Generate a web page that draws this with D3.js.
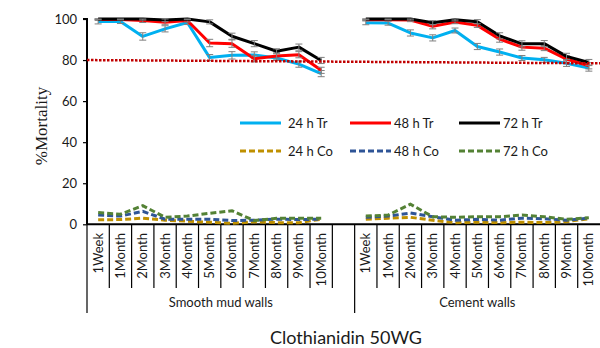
<!DOCTYPE html>
<html>
<head>
<meta charset="utf-8">
<script src="https://cdn.jsdelivr.net/npm/d3@7"></script>
<style>
  body { margin: 0; background: #fff; }
  svg { display: block; }
  text { font-family: Lato, "Open Sans", sans-serif; fill: #1a1a1a; }
</style>
</head>
<body>
<div id="chart-area"></div>
<script>
// categories
var periods = ["1Week", "1Month", "2Month", "3Month", "4Month", "5Month",
  "6Month", "7Month", "8Month", "9Month", "10Month"];
var groups = ["Smooth mud walls", "Cement walls"];
var yTicks = [0, 20, 40, 60, 80, 100];

// smooth mud walls
var mudTr24 = [98.8, 98.8, 91.5, 95.2, 98.3, 81.2, 82.3, 82.5, 81, 78, 73.4];
var mudTr48 = [99.8, 99.8, 99.3, 98.4, 99.3, 88.3, 88, 80.6, 82, 82.6, 75];
var mudTr72 = [100, 100, 100, 99.5, 100, 98.6, 91.6, 88, 84.3, 86.3, 79.8];
var mudCo24 = [2.2, 2.3, 3, 2, 1.5, 1, 0.5, 1.2, 0.8, 0.8, 2.5];
var mudCo48 = [4.5, 4, 6.3, 2.5, 2.5, 2.5, 1.8, 2, 2.5, 2.3, 2.5];
var mudCo72 = [5.7, 4.9, 9.1, 3.4, 4, 5.4, 6.6, 1.8, 2.9, 3, 3];
var mudErrTr24 = [1.2, 1, 1.8, 1.5, 1, 1.5, 1.8, 1.5, 1.2, 1.5, 1.5];
var mudErrTr48 = [0.5, 0.5, 1, 1.2, 0.8, 1.8, 1.8, 1.5, 1.5, 1.5, 1.5];
var mudErrTr72 = [0.3, 0.3, 0.5, 0.8, 0.3, 1, 1.5, 1.5, 1.2, 1.5, 1.5];

// cement walls
var cemTr24 = [98.2, 98, 93.2, 90.8, 94.4, 86.6, 83.9, 81, 80.1, 78.4, 76.1];
var cemTr48 = [99.6, 99.6, 99.5, 96.4, 98.5, 96.9, 90.2, 86.3, 85.8, 80.5, 77.2];
var cemTr72 = [100, 100, 100, 98.2, 99.6, 98.7, 91.8, 87.9, 88, 81.8, 78.8];
var cemCo24 = [2.4, 3, 3.4, 2, 0.8, 1, 0.8, 1, 0.8, 1.3, 2.7];
var cemCo48 = [3.4, 4, 5.5, 3.7, 2, 2.4, 2, 3, 2.7, 2, 3];
var cemCo72 = [4, 4.5, 9.8, 3.7, 3.4, 3.7, 3.7, 4.5, 3.7, 2.4, 3.2];
var cemErrTr24 = [1, 1, 1.5, 1.5, 1.2, 1.5, 1.5, 1.2, 1.2, 1.5, 1.5];
var cemErrTr48 = [0.5, 0.5, 0.8, 1.2, 0.8, 1, 1.5, 1.5, 1.2, 1.5, 1.5];
var cemErrTr72 = [0.3, 0.3, 0.5, 1, 0.5, 1, 1.5, 1.5, 1.5, 1.5, 1.5];

// 80% reference line, start and end
var threshold = [80, 78.4];

var seriesNames = ["24 h Tr", "48 h Tr", "72 h Tr", "24 h Co", "48 h Co", "72 h Co"];
var seriesColors = ["#00b0f0", "#ff0000", "#000000", "#bf9000", "#2f5597", "#548235"];

var W = 600, H = 348;
var margin = { left: 87, right: 0, top: 19, bottom: 124 };

var svg = d3.select("#chart-area").append("svg")
  .attr("width", W)
  .attr("height", H);

// slot keys: 11 mud slots, one empty, 11 cement slots
var slotKeys = periods.map(p => "mud-" + p)
  .concat(["mud-gap"])
  .concat(periods.map(p => "cem-" + p));

var xScale = d3.scaleBand()
  .domain(slotKeys)
  .range([margin.left, W])
  .paddingInner(0);

var yScale = d3.scaleLinear()
  .domain([0, 100])
  .range([224.3, margin.top]);

var bw = xScale.bandwidth();

// y axis
var yAxis = d3.axisLeft(yScale).tickValues(yTicks).tickSize(4).tickPadding(6);
var yAxisGroup = svg.append("g")
  .attr("transform", "translate(" + margin.left + ",0)")
  .call(yAxis);
yAxisGroup.select(".domain").attr("stroke", "#000").attr("stroke-width", 2)
  .attr("d", "M-4," + yScale(100) + "H0V" + yScale(0));
yAxisGroup.selectAll(".tick line").attr("stroke", "#000").attr("stroke-width", 1.2);
yAxisGroup.selectAll(".tick text")
  .style("font-family", "Lato, sans-serif")
  .style("font-size", "13px")
  .attr("fill", "#333");

// y label
svg.append("text")
  .attr("transform", "translate(47," + 126 + ") rotate(-90)")
  .attr("text-anchor", "middle")
  .style("font-family", "'Liberation Serif', 'Times New Roman', serif")
  .style("font-size", "17px")
  .text("%Mortality");

// category table below x axis
var baseY = yScale(0);
var table = svg.append("g").attr("class", "x-table");
table.append("line")
  .attr("x1", margin.left).attr("x2", W)
  .attr("y1", baseY).attr("y2", baseY)
  .attr("stroke", "#000").attr("stroke-width", 2);

slotKeys.forEach(function (k, i) {
  var x0 = xScale(k);
  var isGroupEdge = (i === 0 || k === "cem-1Week");
  table.append("line")
    .attr("x1", x0).attr("x2", x0)
    .attr("y1", baseY).attr("y2", isGroupEdge ? 313 : 288)
    .attr("stroke", "#000").attr("stroke-width", 1.2);
});

slotKeys.forEach(function (k) {
  if (k === "mud-gap") return;
  var label = k.slice(4);
  var cx = xScale(k) + bw / 2 + 4.5;
  table.append("text")
    .attr("transform", "translate(" + cx + ",233) rotate(-90)")
    .attr("text-anchor", "end")
    .style("font-size", "13px")
    .text(label);
});

// group labels
table.append("text")
  .attr("x", (xScale("mud-1Week") + xScale("mud-gap") + bw) / 2)
  .attr("y", 307)
  .attr("text-anchor", "middle")
  .style("font-size", "13px")
  .text(groups[0]);
table.append("text")
  .attr("x", (xScale("cem-1Week") + W) / 2)
  .attr("y", 307)
  .attr("text-anchor", "middle")
  .style("font-size", "13px")
  .text(groups[1]);

// title
svg.append("text")
  .attr("x", 346)
  .attr("y", 344)
  .attr("text-anchor", "middle")
  .style("font-size", "18px")
  .text("Clothianidin 50WG");

// data series
var panels = [
  { prefix: "mud-", tr: [mudTr24, mudTr48, mudTr72], co: [mudCo24, mudCo48, mudCo72], err: [mudErrTr24, mudErrTr48, mudErrTr72] },
  { prefix: "cem-", tr: [cemTr24, cemTr48, cemTr72], co: [cemCo24, cemCo48, cemCo72], err: [cemErrTr24, cemErrTr48, cemErrTr72] }
];

var line = d3.line()
  .x(d => xScale(d.key) + bw / 2)
  .y(d => yScale(d.value));

var lines = svg.append("g").attr("class", "lines");

panels.forEach(function (panel) {
  // control series (dashed)
  panel.co.forEach(function (vals, s) {
    var pts = vals.map((v, i) => ({ key: panel.prefix + periods[i], value: v }));
    lines.append("path")
      .attr("d", line(pts))
      .attr("fill", "none")
      .attr("stroke", seriesColors[s + 3])
      .attr("stroke-width", 3)
      .attr("stroke-dasharray", "6,3");
  });
  // treatment series (solid) with error bars
  panel.tr.forEach(function (vals, s) {
    var pts = vals.map((v, i) => ({ key: panel.prefix + periods[i], value: v, err: panel.err[s][i] }));
    lines.append("path")
      .attr("d", line(pts))
      .attr("fill", "none")
      .attr("stroke", seriesColors[s])
      .attr("stroke-width", 3)
      .attr("stroke-linejoin", "round");
    var eb = lines.append("g").attr("stroke", "#7f7f7f").attr("stroke-width", 1);
    pts.forEach(function (d) {
      var cx = xScale(d.key) + bw / 2;
      var yt = yScale(Math.min(100, d.value + d.err));
      var yb = yScale(d.value - d.err);
      eb.append("line").attr("x1", cx).attr("x2", cx).attr("y1", yt).attr("y2", yb);
      eb.append("line").attr("x1", cx - 3.5).attr("x2", cx + 3.5).attr("y1", yt).attr("y2", yt);
      eb.append("line").attr("x1", cx - 3.5).attr("x2", cx + 3.5).attr("y1", yb).attr("y2", yb);
    });
  });
});

// 80% threshold line
svg.append("line")
  .attr("x1", margin.left).attr("x2", W)
  .attr("y1", yScale(threshold[0])).attr("y2", yScale(threshold[1]))
  .attr("stroke", "#c00000")
  .attr("stroke-width", 2.5)
  .attr("stroke-dasharray", "2.5,1.5");

// legend
var legendX = [240, 350, 459];
var legendY = [123, 151];
var legend = svg.append("g").attr("class", "legend");
seriesNames.forEach(function (name, i) {
  var col = i % 3, row = Math.floor(i / 3);
  var lx = legendX[col], ly = legendY[row];
  legend.append("line")
    .attr("x1", lx).attr("x2", lx + 41)
    .attr("y1", ly).attr("y2", ly)
    .attr("stroke", seriesColors[i])
    .attr("stroke-width", 3)
    .attr("stroke-dasharray", row === 1 ? "6,3" : null);
  legend.append("text")
    .attr("x", lx + (col === 0 ? 48 : 44))
    .attr("y", ly + 4.5)
    .style("font-size", "13px")
    .text(name);
});
</script>
</body>
</html>
